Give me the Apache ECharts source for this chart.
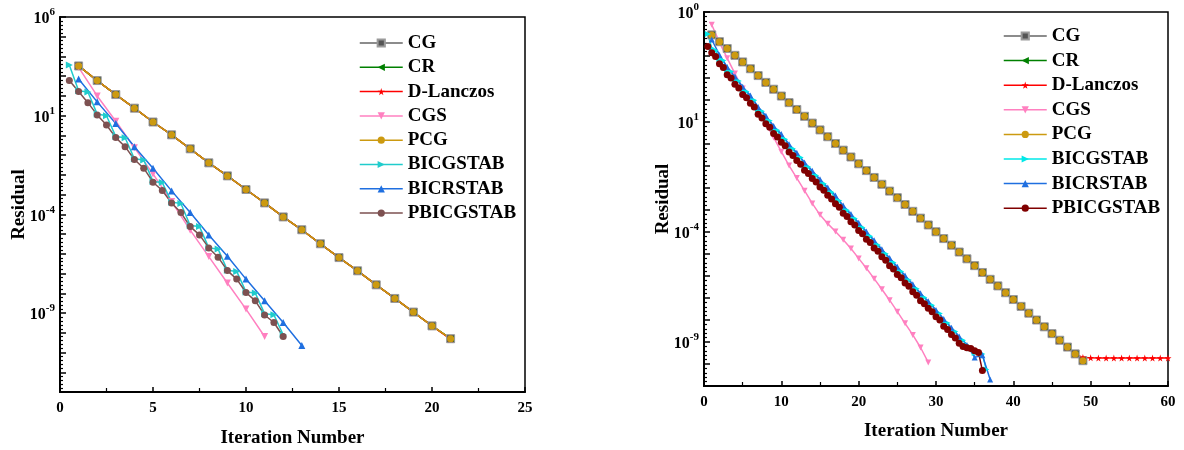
<!DOCTYPE html>
<html><head><meta charset="utf-8">
<script src="https://cdn.jsdelivr.net/npm/echarts@6/dist/echarts.min.js"></script>
<style>html,body{margin:0;padding:0;background:#fff}#chart{width:1184px;height:450px}</style>
</head><body><div id="chart"></div>
<script>
// ---------- DATA (log10 of residual) ----------
const seriesNames = ['CG','CR','D-Lanczos','CGS','PCG','BICGSTAB','BICRSTAB','PBICGSTAB'];

// Left chart
const leftIterMain = [1,2,3,4,5,6,7,8,9,10,11,12,13,14,15,16,17,18,19,20,21];
const leftCG  = [3.52,2.78,2.07,1.38,0.68,0.03,-0.68,-1.39,-2.05,-2.74,-3.42,-4.13,-4.78,-5.49,-6.19,-6.86,-7.57,-8.26,-8.95,-9.65,-10.30];
const leftCR  = [3.52,2.78,2.07,1.38,0.68,0.03,-0.68,-1.39,-2.05,-2.74,-3.42,-4.13,-4.78,-5.49,-6.19,-6.86,-7.57,-8.26,-8.95,-9.65,-10.30];
const leftDL  = [3.52,2.78,2.07,1.38,0.68,0.03,-0.68,-1.39,-2.05,-2.74,-3.42,-4.13,-4.78,-5.49,-6.19,-6.86,-7.57,-8.26,-8.95,-9.65,-10.32];
const leftPCG = [3.52,2.78,2.07,1.38,0.68,0.03,-0.68,-1.39,-2.05,-2.74,-3.42,-4.13,-4.78,-5.49,-6.19,-6.86,-7.57,-8.26,-8.95,-9.65,-10.30];
const leftIterCGS = [1,2,3,4,5,6,7,8,9,10,11];
const leftCGS = [3.45,2.00,0.72,-0.62,-1.95,-3.35,-4.80,-6.14,-7.48,-8.80,-10.19];
const leftIterBiCR = [1,2,3,4,5,6,7,8,9,10,11,12,13];
const leftBICRSTAB = [2.86,1.70,0.60,-0.57,-1.66,-2.81,-3.91,-5.04,-6.12,-7.28,-8.38,-9.48,-10.64];
const leftIterHalf = [0.5,1,1.5,2,2.5,3,3.5,4,4.5,5,5.5,6,6.5,7,7.5,8,8.5,9,9.5,10,10.5,11,11.5,12];
const leftBICGSTAB = [3.57,2.26,2.20,1.08,1.00,-0.06,-0.12,-1.18,-1.24,-2.33,-2.39,-3.38,-3.45,-4.56,-4.62,-5.70,-5.76,-6.83,-6.89,-7.93,-7.99,-9.03,-9.09,-10.10];
const leftPBICGSTAB = [2.78,2.22,1.66,1.04,0.53,-0.11,-0.57,-1.22,-1.66,-2.37,-2.79,-3.43,-3.91,-4.62,-5.04,-5.70,-6.17,-6.85,-7.28,-7.96,-8.38,-9.10,-9.48,-10.19];

// Right chart
const rightIterMain = [1,2,3,4,5,6,7,8,9,10,11,12,13,14,15,16,17,18,19,20,21,22,23,24,25,26,27,28,29,30,31,32,33,34,35,36,37,38,39,40,41,42,43,44,45,46,47,48,49];
const rightCG  = [4.96,4.65,4.34,4.03,3.73,3.42,3.11,2.80,2.49,2.18,1.88,1.57,1.26,0.95,0.64,0.33,0.02,-0.28,-0.59,-0.90,-1.21,-1.52,-1.83,-2.14,-2.44,-2.75,-3.06,-3.37,-3.68,-3.99,-4.30,-4.60,-4.91,-5.22,-5.53,-5.84,-6.15,-6.45,-6.76,-7.07,-7.38,-7.69,-8.00,-8.31,-8.62,-8.92,-9.23,-9.54,-9.85];
const rightCR  = [4.96,4.65,4.34,4.03,3.73,3.42,3.11,2.80,2.49,2.18,1.88,1.57,1.26,0.95,0.64,0.33,0.02,-0.28,-0.59,-0.90,-1.21,-1.52,-1.83,-2.14,-2.44,-2.75,-3.06,-3.37,-3.68,-3.99,-4.30,-4.60,-4.91,-5.22,-5.53,-5.84,-6.15,-6.45,-6.76,-7.07,-7.38,-7.69,-8.00,-8.31,-8.62,-8.92,-9.23,-9.54,-9.85];
const rightPCG = [4.96,4.65,4.34,4.03,3.73,3.42,3.11,2.80,2.49,2.18,1.88,1.57,1.26,0.95,0.64,0.33,0.02,-0.28,-0.59,-0.90,-1.21,-1.52,-1.83,-2.14,-2.44,-2.75,-3.06,-3.37,-3.68,-3.99,-4.30,-4.60,-4.91,-5.22,-5.53,-5.84,-6.15,-6.45,-6.76,-7.07,-7.38,-7.69,-8.00,-8.31,-8.62,-8.92,-9.23,-9.54,-9.85];
const rightIterDL = [1,2,3,4,5,6,7,8,9,10,11,12,13,14,15,16,17,18,19,20,21,22,23,24,25,26,27,28,29,30,31,32,33,34,35,36,37,38,39,40,41,42,43,44,45,46,47,48,49,50,51,52,53,54,55,56,57,58,59,60];
const rightDL  = [4.96,4.65,4.34,4.03,3.73,3.42,3.11,2.80,2.49,2.18,1.88,1.57,1.26,0.95,0.64,0.33,0.02,-0.28,-0.59,-0.90,-1.21,-1.52,-1.83,-2.14,-2.44,-2.75,-3.06,-3.37,-3.68,-3.99,-4.30,-4.60,-4.91,-5.22,-5.53,-5.84,-6.15,-6.45,-6.76,-7.07,-7.38,-7.69,-8.00,-8.31,-8.62,-8.92,-9.23,-9.55,-9.70,-9.72,-9.73,-9.73,-9.73,-9.73,-9.73,-9.73,-9.73,-9.73,-9.73,-9.73];
const rightIterCGS = [1,2,3,4,5,6,7,8,9,10,11,12,13,14,15,16,17,18,19,20,21,22,23,24,25,26,27,28,29];
const rightCGS = [5.42,4.62,3.90,3.20,2.52,1.95,1.42,0.92,0.30,-0.35,-0.98,-1.55,-2.12,-2.70,-3.22,-3.62,-3.98,-4.35,-4.75,-5.20,-5.65,-6.12,-6.60,-7.10,-7.62,-8.15,-8.68,-9.25,-9.93];
const rightIterBiCR = [1,2,3,4,5,6,7,8,9,10,11,12,13,14,15,16,17,18,19,20,21,22,23,24,25,26,27,28,29,30,31,32,33,34,35,36,37];
const rightBICRSTAB = [4.75,4.05,3.50,3.07,2.60,2.20,1.68,1.28,0.82,0.45,-0.01,-0.40,-0.84,-1.22,-1.60,-1.98,-2.34,-2.80,-3.18,-3.58,-3.98,-4.38,-4.78,-5.18,-5.58,-5.98,-6.38,-6.78,-7.15,-7.55,-7.95,-8.35,-8.75,-9.14,-9.70,-9.60,-10.70];
const rightPBICGSTAB = [4.43,4.15,3.98,3.65,3.48,3.15,3.00,2.72,2.55,2.25,2.10,1.85,1.68,1.35,1.18,0.92,0.76,0.48,0.32,0.08,-0.08,-0.36,-0.52,-0.75,-0.92,-1.19,-1.34,-1.57,-1.73,-1.95,-2.10,-2.33,-2.50,-2.72,-2.88,-3.15,-3.30,-3.53,-3.68,-3.93,-4.08,-4.33,-4.48,-4.73,-4.88,-5.13,-5.28,-5.53,-5.68,-5.93,-6.08,-6.32,-6.47,-6.72,-6.87,-7.12,-7.26,-7.47,-7.62,-7.85,-8.00,-8.28,-8.43,-8.66,-8.82,-9.06,-9.20,-9.26,-9.30,-9.40,-9.48,-10.30];
const rightBICGSTAB = [5.00,4.35,4.25,3.85,3.79,3.35,3.29,2.92,2.86,2.45,2.39,2.05,1.99,1.55,1.49,1.12,1.06,0.68,0.62,0.28,0.22,-0.16,-0.22,-0.55,-0.61,-0.99,-1.05,-1.37,-1.43,-1.75,-1.81,-2.13,-2.19,-2.52,-2.58,-2.95,-3.01,-3.33,-3.39,-3.73,-3.79,-4.13,-4.19,-4.53,-4.59,-4.93,-4.99,-5.33,-5.39,-5.73,-5.79,-6.12,-6.18,-6.52,-6.58,-6.92,-6.98,-7.27,-7.33,-7.65,-7.71,-8.08,-8.14,-8.46,-8.52,-8.86,-8.92,-9.15,-9.30,-9.50,-9.45,-9.55,-10.25];

// half-step iteration counts (0.5, 1, 1.5, ...)
function halfSteps(last) { const r = []; for (let k = 1; k <= last * 2; k++) r.push(k / 2); return r; }
const rightIterHalfP = halfSteps(36);
const rightIterHalfC = halfSteps(36.5);

// axis ticks
const leftYLabelExp = [6, 1, -4, -9];
const leftYLabelSup = ['6', '1', '-4', '-9'];
const rightYLabelExp = [6, 1, -4, -9];
const rightYLabelSup = ['0', '1', '-4', '-9'];

// ---------- STYLES ----------
const FONT = '"Liberation Serif", "Times New Roman", serif';
const STAR = 'path://M50,0 L61,35 L98,35 L68,57 L79,91 L50,70 L21,91 L32,57 L2,35 L39,35 Z';
const styleL = {
  'CG':        {color:'#666666', fill:'#555555', border:'#9a9a9a', bw:1, symbol:'rect', size:8},
  'CR':        {color:'#008000', symbol:'triangle', rotate:90, size:6},
  'D-Lanczos': {color:'#ff0000', symbol:STAR, size:7},
  'CGS':       {color:'#ff80c0', symbol:'triangle', rotate:180, size:7},
  'PCG':       {color:'#cc9a10', symbol:'circle', size:7},
  'BICGSTAB':  {color:'#20cccc', symbol:'triangle', rotate:-90, size:7},
  'BICRSTAB':  {color:'#1f6fe0', symbol:'triangle', size:7},
  'PBICGSTAB': {color:'#7d5151', symbol:'circle', size:7}
};
const styleR = Object.assign({}, styleL, {
  'BICGSTAB':  {color:'#00e8e8', symbol:'triangle', rotate:-90, size:6},
  'BICRSTAB':  {color:'#1f6fe0', symbol:'triangle', size:6},
  'PBICGSTAB': {color:'#800000', symbol:'circle', size:7},
  'CGS':       {color:'#ff80c0', symbol:'triangle', rotate:180, size:6},
  'D-Lanczos': {color:'#ff0000', symbol:STAR, size:7}
});

function ser(name, xs, ys, g, st) {
  return {
    name: name, type: 'line', xAxisIndex: g, yAxisIndex: g,
    data: xs.map((x, i) => [x, ys[i]]),
    symbol: st.symbol, symbolSize: st.size, symbolRotate: st.rotate || 0,
    showSymbol: true, clip: true,
    lineStyle: {color: st.color, width: 1.5},
    itemStyle: {color: st.fill || st.color, borderColor: st.border || st.fill || st.color, borderWidth: st.bw || 0},
    emphasis: {disabled: true}, animation: false
  };
}

const series = [
  ser('CG', leftIterMain, leftCG, 0, styleL['CG']),
  ser('CR', leftIterMain, leftCR, 0, styleL['CR']),
  ser('D-Lanczos', leftIterMain, leftDL, 0, styleL['D-Lanczos']),
  ser('CGS', leftIterCGS, leftCGS, 0, styleL['CGS']),
  ser('PCG', leftIterMain, leftPCG, 0, styleL['PCG']),
  ser('BICGSTAB', leftIterHalf, leftBICGSTAB, 0, styleL['BICGSTAB']),
  ser('BICRSTAB', leftIterBiCR, leftBICRSTAB, 0, styleL['BICRSTAB']),
  ser('PBICGSTAB', leftIterHalf, leftPBICGSTAB, 0, styleL['PBICGSTAB']),
  ser('CG', rightIterMain, rightCG, 1, styleR['CG']),
  ser('CR', rightIterMain, rightCR, 1, styleR['CR']),
  ser('D-Lanczos', rightIterDL, rightDL, 1, styleR['D-Lanczos']),
  ser('CGS', rightIterCGS, rightCGS, 1, styleR['CGS']),
  ser('PCG', rightIterMain, rightPCG, 1, styleR['PCG']),
  ser('BICGSTAB', rightIterHalfC, rightBICGSTAB, 1, styleR['BICGSTAB']),
  ser('BICRSTAB', rightIterBiCR, rightBICRSTAB, 1, styleR['BICRSTAB']),
  ser('PBICGSTAB', rightIterHalfP, rightPBICGSTAB, 1, styleR['PBICGSTAB'])
];

function xAx(g, max, interval, gap) {
  return {
    type: 'value', gridIndex: g, min: 0, max: max, interval: interval,
    axisLine: {show: true, onZero: false, lineStyle: {color: '#000', width: 2}},
    axisTick: {show: true, inside: true, length: 5, lineStyle: {color: '#000', width: 1.5}},
    minorTick: {show: true, splitNumber: 2, length: 4, lineStyle: {color: '#000', width: 1.2}},
    splitLine: {show: false},
    axisLabel: {color: '#000', fontFamily: FONT, fontWeight: 'bold', fontSize: 15, margin: 9},
    name: 'Iteration Number', nameLocation: 'middle', nameGap: gap, nameMoveOverlap: false,
    nameTextStyle: {color: '#000', fontFamily: FONT, fontWeight: 'bold', fontSize: 19}
  };
}
function yAx(g, min, exps, sups) {
  return {
    type: 'value', gridIndex: g, min: min, max: 6, interval: 1,
    axisLine: {show: true, onZero: false, lineStyle: {color: '#000', width: 2}},
    axisTick: {show: true, inside: true, length: 6, lineStyle: {color: '#000', width: 1.5}},
    minorTick: {show: true, splitNumber: 5, length: 3, lineStyle: {color: '#000', width: 1.2}},
    splitLine: {show: false},
    axisLabel: {
      margin: 5,
      formatter: function (v) {
        const i = exps.indexOf(Math.round(v));
        return i < 0 ? '' : '{b|10}{s|' + sups[i] + '}';
      },
      rich: {
        b: {color: '#000', fontFamily: FONT, fontWeight: 'bold', fontSize: 16, lineHeight: 20, verticalAlign: 'bottom'},
        s: {color: '#000', fontFamily: FONT, fontWeight: 'bold', fontSize: 11, lineHeight: 11, verticalAlign: 'top'}
      }
    },
    name: 'Residual', nameLocation: 'middle', nameGap: 31, nameMoveOverlap: false,
    nameTextStyle: {color: '#000', fontFamily: FONT, fontWeight: 'bold', fontSize: 19}
  };
}

function legendData(st) {
  return seriesNames.map(n => ({name: n, itemStyle: {color: st[n].fill || st[n].color}, lineStyle: {color: st[n].color, width: 1.5}}));
}
const legendText = {color: '#000', fontFamily: FONT, fontWeight: 'bold', fontSize: 19, lineHeight: 20};

const chart = echarts.init(document.getElementById('chart'), null, {renderer: 'canvas'});
chart.setOption({
  animation: false,
  backgroundColor: '#fff',
  grid: [
    {left: 60, top: 17, width: 465, height: 375, show: true, borderColor: '#000', borderWidth: 1.5, backgroundColor: 'transparent', containLabel: false, outerBoundsMode: 'none'},
    {left: 704, top: 12, width: 464, height: 374, show: true, borderColor: '#000', borderWidth: 1.5, backgroundColor: 'transparent', containLabel: false, outerBoundsMode: 'none'}
  ],
  xAxis: [xAx(0, 25, 5, 37), xAx(1, 60, 10, 36)],
  yAxis: [yAx(0, -13, leftYLabelExp, leftYLabelSup), yAx(1, -11, rightYLabelExp, rightYLabelSup)],
  legend: [
    {orient: 'vertical', left: 359, top: 33, itemWidth: 43, itemHeight: 9, itemGap: 4.3, padding: 0,
     textStyle: legendText, data: legendData(styleL), selectedMode: false},
    {orient: 'vertical', left: 1003, top: 26, itemWidth: 43, itemHeight: 9, itemGap: 4.6, padding: 0,
     textStyle: legendText, data: legendData(styleR), selectedMode: false}
  ],
  series: series
});
</script></body></html>
